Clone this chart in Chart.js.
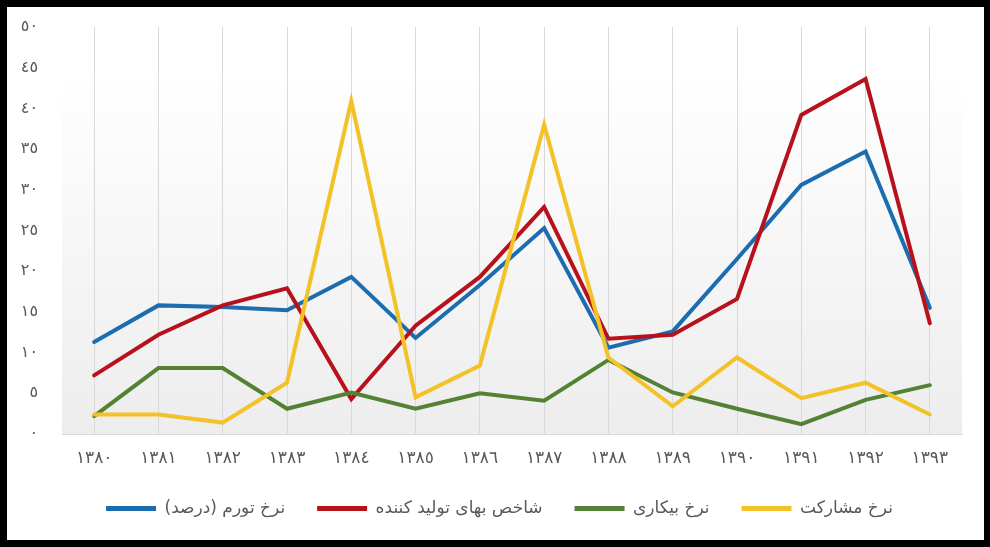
<!DOCTYPE html>
<html>
<head>
<meta charset="utf-8">
<script src="https://cdn.jsdelivr.net/npm/chart.js@4"></script>
<style>
html,body{margin:0;padding:0;background:#000;}
#wrap{position:relative;width:990px;height:547px;background:#000;overflow:hidden;}
#c{position:absolute;left:7px;top:7px;background:#fff;}
</style>
</head>
<body>
<div id="wrap"><canvas id="c" width="977" height="533"></canvas></div>
<script>
const years = ['١٣٨٠','١٣٨١','١٣٨٢','١٣٨٣','١٣٨٤','١٣٨٥','١٣٨٦','١٣٨٧','١٣٨٨','١٣٨٩','١٣٩٠','١٣٩١','١٣٩٢','١٣٩٣'];
const inflation     = [11.3, 15.8, 15.6, 15.2, 19.3, 11.8, 18.3, 25.3, 10.6, 12.6, 21.5, 30.6, 34.7, 15.5];
const ppi           = [7.2, 12.2, 15.8, 17.9, 4.3, 13.3, 19.3, 27.9, 11.7, 12.2, 16.6, 39.2, 43.6, 13.6];
const unemployment  = [2.2, 8.1, 8.1, 3.1, 5.1, 3.1, 5.0, 4.1, 9.1, 5.1, 3.1, 1.2, 4.2, 6.0];
const participation = [2.4, 2.4, 1.4, 6.3, 40.9, 4.5, 8.4, 38.0, 9.4, 3.4, 9.4, 4.4, 6.3, 2.4];
const seriesNames = ['نرخ تورم (درصد)', 'شاخص بهای تولید کننده', 'نرخ بیکاری', 'نرخ مشارکت'];
const seriesColors = ['#1b6db0', '#b7121c', '#548235', '#f3c128'];
const yTicks = [0, 5, 10, 15, 20, 25, 30, 35, 40, 45, 50];

const arabicDigits = '٠١٢٣٤٥٦٧٨٩';
const toArabic = n => String(n).replace(/[0-9]/g, d => arabicDigits[+d]);

const bgPlugin = {
  id: 'bg',
  beforeDraw(chart) {
    const {ctx, chartArea, scales} = chart;
    const top = scales.y.getPixelForValue(44.5);
    const g = ctx.createLinearGradient(0, top, 0, chartArea.bottom);
    g.addColorStop(0, '#ffffff');
    g.addColorStop(1, '#ededed');
    ctx.save();
    ctx.fillStyle = g;
    ctx.fillRect(chartArea.left, top, chartArea.right - chartArea.left, chartArea.bottom - top);
    ctx.restore();
  }
};

const legendShift = {
  id: 'legendShift',
  afterLayout(chart) {
    const l = chart.legend;
    if (l) { l.left += 15; l.right += 15; }
  }
};

const datasets = [inflation, ppi, unemployment, participation].map((d, i) => ({
  label: seriesNames[i],
  data: d,
  borderColor: seriesColors[i],
  backgroundColor: seriesColors[i],
  borderWidth: 4,
  pointRadius: 0,
  tension: 0,
  fill: false,
  borderCapStyle: 'round',
  borderJoinStyle: 'miter',
  order: 4 - i
}));

new Chart(document.getElementById('c'), {
  type: 'line',
  data: { labels: years, datasets },
  plugins: [bgPlugin, legendShift],
  options: {
    responsive: false,
    devicePixelRatio: 1,
    animation: false,
    layout: { padding: { top: 20, right: 22, left: 0, bottom: 13 } },
    plugins: {
      tooltip: { enabled: false },
      legend: {
        position: 'bottom',
        textDirection: 'rtl',
        labels: {
          boxWidth: 50,
          boxHeight: 5,
          padding: 32,
          color: '#595959',
          font: { family: 'DejaVu Sans', size: 17 },
          useBorderRadius: true,
          borderRadius: 2.5,
          sort: (a, b) => a.datasetIndex - b.datasetIndex,
          generateLabels(chart) {
            return chart.data.datasets.map((ds, i) => ({
              text: ds.label,
              fillStyle: ds.borderColor,
              strokeStyle: ds.borderColor,
              lineWidth: 0,
              datasetIndex: i,
              fontColor: '#595959',
              hidden: false
            }));
          }
        }
      }
    },
    scales: {
      x: {
        offset: true,
        grid: { display: true, color: '#d9d9d9', lineWidth: 1, offset: false, drawTicks: false },
        border: { display: true, color: '#d9d9d9', width: 1 },
        ticks: { color: '#595959', padding: 14, font: { family: 'DejaVu Sans', size: 17 }, maxRotation: 0, autoSkip: false },
        afterFit(scale) { scale.height = 34; }
      },
      y: {
        min: 0, max: 50,
        afterBuildTicks(scale) { scale.ticks = yTicks.map(v => ({ value: v })); },
        grid: { display: false, drawTicks: false },
        border: { display: false },
        ticks: { color: '#595959', padding: 24, font: { family: 'DejaVu Sans', size: 16 }, callback: v => toArabic(v) },
        afterFit(scale) { scale.width = 55; scale.paddingTop = 10; scale.paddingBottom = 10; }
      }
    }
  }
});
</script>
</body>
</html>
